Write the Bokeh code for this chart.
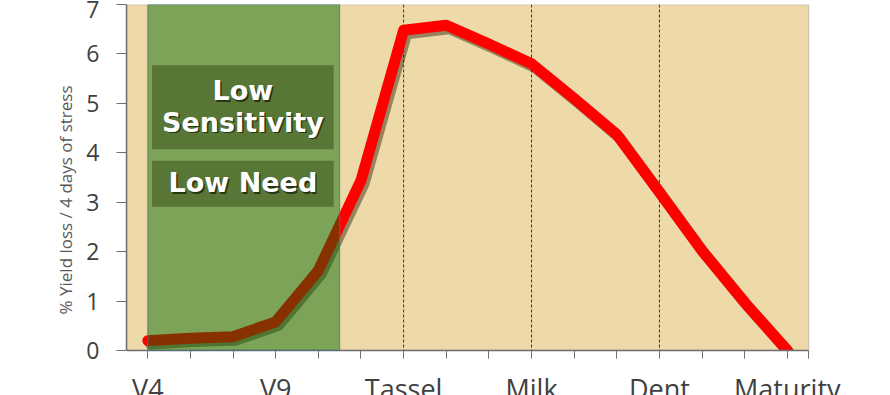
from bokeh.plotting import figure
from bokeh.models import Range1d, FixedTicker, BoxAnnotation, Label, Span
from bokeh.embed import file_html
from bokeh.resources import INLINE
import numpy as np

# ---- data ----
categories = list(range(16))
stage_labels = ["V4", "", "", "V9", "", "", "Tassel", "", "", "Milk", "", "", "Dent", "", "", "Maturity"]
yield_loss = [0.20, 0.25, 0.28, 0.58, 1.62, 3.44, 6.48, 6.58, 6.20, 5.80, 5.10, 4.37, 3.20, 2.02, 0.97, 0.0]
y_ticks = [0, 1, 2, 3, 4, 5, 6, 7]
marker_stages = ["Tassel", "Milk", "Dent"]
zone_text = ["Low", "Sensitivity", "Low Need"]

labeled = [i for i, s in enumerate(stage_labels) if s]
unlabeled = [i for i, s in enumerate(stage_labels) if not s] + [15.5]

# layout constants (plot area spans x -0.5..15.5, y 0..7; extra room kept for the labels)
X_LO, X_HI, X_VIEW = -0.5, 15.5, 17.42
Y_MAX, Y_BELOW = 7, -0.91

# ---- figure ----
p = figure(width=890, height=395, output_backend="svg", toolbar_location=None,
           x_range=Range1d(X_LO, X_VIEW), y_range=Range1d(Y_BELOW, Y_MAX),
           min_border_left=126, min_border_right=0, min_border_top=4, min_border_bottom=0)
p.background_fill_color = "white"
p.border_fill_color = "white"
p.outline_line_color = None
p.grid.visible = False

# plot area (papyrus background + frame)
p.add_layout(BoxAnnotation(left=X_LO, right=X_HI, bottom=0, fill_color="#EDDAA8", fill_alpha=1.0,
                           line_color="#7f7f7f", line_width=1.5, level="underlay"))

# y axis
p.yaxis.bounds = (0, Y_MAX)
p.yaxis.ticker = FixedTicker(ticks=y_ticks)
p.yaxis.major_tick_out = 10
p.yaxis.major_tick_in = 0
p.yaxis.minor_tick_line_color = None
p.yaxis.major_label_standoff = 17
p.yaxis.major_label_text_font = "Open Sans"
p.yaxis.major_label_text_font_size = "23px"
p.yaxis.major_label_text_color = "#404040"
p.yaxis.axis_line_color = "#6f6f6f"
p.yaxis.major_tick_line_color = "#6f6f6f"
p.yaxis.axis_line_width = 1.5
p.yaxis.axis_label = "% Yield loss / 4 days of stress"
p.yaxis.axis_label_text_font = "Open Sans"
p.yaxis.axis_label_text_font_style = "normal"
p.yaxis.axis_label_text_font_size = "17px"
p.yaxis.axis_label_text_color = "#595959"
p.yaxis.axis_label_standoff = 6

# x axis drawn at y = 0: labelled stages as major ticks, the rest as minor ticks
p.xaxis.fixed_location = 0
p.xaxis.bounds = (X_LO, X_HI)
p.xaxis.ticker = FixedTicker(ticks=labeled, minor_ticks=unlabeled)
p.xaxis.major_label_overrides = {i: stage_labels[i] for i in labeled}
p.xaxis.major_tick_out = 8
p.xaxis.major_tick_in = 0
p.xaxis.minor_tick_out = 8
p.xaxis.minor_tick_in = 0
p.xaxis.major_tick_line_color = "#6f6f6f"
p.xaxis.minor_tick_line_color = "#6f6f6f"
p.xaxis.major_label_standoff = 11
p.xaxis.major_label_text_font = "Open Sans"
p.xaxis.major_label_text_font_size = "27px"
p.xaxis.major_label_text_color = "#404040"
p.xaxis.axis_line_color = "#6f6f6f"
p.xaxis.axis_line_width = 1.5

# dashed stage markers
for name in marker_stages:
    p.add_layout(Span(location=stage_labels.index(name), dimension="height",
                      line_color="#333333", line_width=1, line_dash="3 2", level="underlay"))

# line shadow + line
xs = np.array(categories, dtype=float)
ys = np.array(yield_loss, dtype=float)
p.line(xs + 0.07, ys - 0.07, line_color="#2a1a05", line_alpha=0.45, line_width=11,
       line_join="round", line_cap="round")
p.line(xs, ys, line_color="#FF0000", line_width=11, line_join="round", line_cap="round")

# mask everything drawn below the axis (keeps the line clipped at y = 0)
p.add_layout(BoxAnnotation(top=0, fill_color="white", fill_alpha=1.0, line_color=None, level="glyph"))

# low-sensitivity zone overlay
p.add_layout(BoxAnnotation(left=0, right=4.5, bottom=0, fill_color="#006600", fill_alpha=0.47,
                           line_color="#4d6f8f", line_width=1, line_alpha=0.8))
p.add_layout(BoxAnnotation(left=0.1, right=4.36, top=5.77, bottom=4.07,
                           fill_color="#3F5A22", fill_alpha=0.6, line_color=None))
p.add_layout(BoxAnnotation(left=0.1, right=4.36, top=3.84, bottom=2.91,
                           fill_color="#3F5A22", fill_alpha=0.6, line_color=None))

for txt, yy in zip(zone_text, [5.26, 4.62, 3.39]):
    for col, dx, dy, a in [("#1a2208", 1.5, -1.5, 0.8), ("white", 0, 0, 1.0)]:
        p.add_layout(Label(x=2.23, y=yy, text=txt, text_align="center", text_baseline="alphabetic",
                           text_font="DejaVu Sans", text_font_style="bold", text_font_size="27px",
                           text_color=col, text_alpha=a, x_offset=dx, y_offset=dy))

open("out.html", "w").write(file_html(p, INLINE))
